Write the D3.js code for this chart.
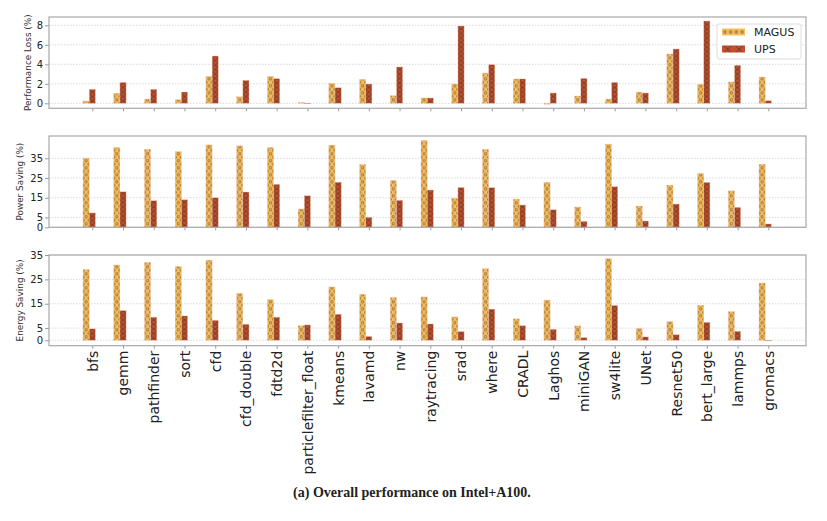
<!DOCTYPE html>
<html><head><meta charset="utf-8">
<script src="https://cdn.jsdelivr.net/npm/d3@7"></script>
<style>body{margin:0;background:#fff}svg{display:block}</style>
</head><body>
<svg id="c" width="827" height="521"></svg>
<script>
const categories = ["bfs","gemm","pathfinder","sort","cfd","cfd_double","fdtd2d","particlefilter_float","kmeans","lavamd","nw","raytracing","srad","where","CRADL","Laghos","miniGAN","sw4lite","UNet","Resnet50","bert_large","lammps","gromacs"];
const seriesNames = ["MAGUS","UPS"];
const perfMAGUS = [0.24,1.03,0.44,0.38,2.77,0.68,2.77,0.10,2.05,2.46,0.79,0.55,1.98,3.11,2.50,-0.10,0.75,0.44,1.16,5.06,1.95,2.19,2.70];
const perfUPS   = [1.44,2.15,1.44,1.16,4.85,2.36,2.53,0.02,1.60,1.98,3.73,0.55,7.93,3.97,2.50,1.06,2.56,2.15,1.06,5.57,8.44,3.90,0.27];
const powerMAGUS = [35.1,40.5,39.6,38.4,41.8,41.3,40.5,9.3,41.7,31.9,23.8,44.0,14.8,39.6,14.3,22.8,10.3,42.2,10.8,21.4,27.3,18.5,32.0];
const powerUPS   = [7.3,18.0,13.5,14.0,15.0,17.9,21.8,16.0,22.9,5.1,13.7,18.9,20.2,20.1,11.3,8.9,3.0,20.6,3.2,11.8,22.8,10.1,1.7];
const energyMAGUS = [29.1,30.9,32.0,30.3,32.9,19.3,16.7,6.0,21.9,18.9,17.6,17.8,9.6,29.4,8.8,16.5,5.9,33.5,4.9,7.7,14.4,11.8,23.5];
const energyUPS   = [4.7,12.2,9.5,10.0,8.2,6.6,9.5,6.3,10.7,1.6,7.1,6.7,3.6,12.8,6.0,4.5,1.1,14.3,1.4,2.3,7.4,3.7,-0.3];
const perfTicks = [0,2,4,6,8];
const powerTicks = [0,5,15,25,35];
const energyTicks = [0,5,15,25,35];
const caption = "(a) Overall performance on Intel+A100.";

const svg = d3.select("#c");
const colors = {MAGUS:"#f7be5c", UPS:"#c1502f"};
const hatchColor = "#3a2a20";
const defs = svg.append("defs");

const x = d3.scaleLinear().domain([0, categories.length-1]).range([92.3, 768.3]);
const bw = 6.2;
const left = 49, right = 806;

let pid = 0;
function makePattern(kind, px, py) {
  const id = "p" + (pid++);
  if (kind === "O") {
    const p = defs.append("pattern").attr("id",id).attr("patternUnits","userSpaceOnUse")
      .attr("width",bw).attr("height",7).attr("x",px).attr("y",py);
    p.append("rect").attr("width",bw).attr("height",7).attr("fill",colors.MAGUS);
    [[bw/2,3.5],[0,0],[bw,0],[0,7],[bw,7]].forEach(([cx,cy])=>{
      p.append("circle").attr("cx",cx).attr("cy",cy).attr("r",1.25).attr("fill","none")
        .attr("stroke",hatchColor).attr("stroke-width",0.6).attr("stroke-opacity",0.85);
    });
  } else {
    const p = defs.append("pattern").attr("id",id).attr("patternUnits","userSpaceOnUse")
      .attr("width",bw).attr("height",9).attr("x",px).attr("y",py);
    p.append("rect").attr("width",bw).attr("height",9).attr("fill",colors.UPS);
    p.append("path").attr("d",`M0,0 L${bw},4.5 L0,9 M${bw},0 L0,4.5 L${bw},9`)
      .attr("stroke",hatchColor).attr("stroke-width",0.6).attr("stroke-opacity",0.85).attr("fill","none");
  }
  return "url(#" + id + ")";
}

const panels = [
  {label:"Performance Loss (%)", top:17, bottom:108.3, domain:[-0.51,8.85], ticks:perfTicks, a:perfMAGUS, b:perfUPS, labelX:31},
  {label:"Power Saving (%)", top:136, bottom:227.3, domain:[0,46.3], ticks:powerTicks, a:powerMAGUS, b:powerUPS, labelX:22.5},
  {label:"Energy Saving (%)", top:255, bottom:345.7, domain:[-2.22,35], ticks:energyTicks, a:energyMAGUS, b:energyUPS, labelX:22.5}
];

panels.forEach((p, pi) => {
  const y = d3.scaleLinear().domain(p.domain).range([p.bottom, p.top]);
  const g = svg.append("g");
  g.selectAll("line.grid").data(p.ticks).join("line")
    .attr("x1",left).attr("x2",right).attr("y1",d=>y(d)).attr("y2",d=>y(d))
    .attr("stroke","#cfcfcf").attr("stroke-width",0.8).attr("stroke-dasharray","1.5,1.5");
  const drawSeries = (vals, off, kind) => {
    g.selectAll(null).data(vals).join("rect")
      .attr("x",(d,i)=>x(i)+off)
      .attr("width",bw)
      .attr("y",d=>Math.min(y(d),y(0)))
      .attr("height",d=>Math.max(0.6,Math.abs(y(d)-y(0))))
      .attr("fill",(d,i)=>makePattern(kind, x(i)+off, y(0)))
      .attr("stroke","#f4c8b6").attr("stroke-width",0.4);
  };
  drawSeries(p.a, -1.5*bw, "O");
  drawSeries(p.b, -0.5*bw, "X");
  const ya = d3.axisLeft(y).tickValues(p.ticks).tickSize(4).tickPadding(2);
  const yg = svg.append("g").attr("transform",`translate(${left},0)`).call(ya);
  yg.select(".domain").remove();
  yg.selectAll("line").attr("stroke","#999");
  yg.selectAll("text").attr("font-family","DejaVu Sans").attr("font-size",10).attr("fill","#222");
  const xa = d3.axisBottom(x).tickValues(d3.range(categories.length)).tickSize(3)
    .tickFormat(i => pi===2 ? categories[i] : "");
  const xg = svg.append("g").attr("transform",`translate(0,${p.bottom})`).call(xa);
  xg.select(".domain").remove();
  xg.selectAll("line").attr("stroke","#999");
  if (pi===2) {
    xg.selectAll("text").attr("font-family","DejaVu Sans").attr("font-size",14).attr("fill","#222")
      .attr("text-anchor","end").attr("transform","rotate(-90)")
      .attr("x",-5).attr("y",0).attr("dy","0.35em");
  }
  svg.append("rect").attr("x",left).attr("y",p.top).attr("width",right-left).attr("height",p.bottom-p.top)
    .attr("fill","none").attr("stroke","#a8a8a8").attr("stroke-width",1.2);
  svg.append("text").attr("transform",`translate(${p.labelX},${(p.top+p.bottom)/2}) rotate(-90)`)
    .attr("text-anchor","middle").attr("font-family","DejaVu Sans").attr("font-size",8.9).attr("fill","#333")
    .text(p.label);
});

// legend
const lg = svg.append("g");
lg.append("rect").attr("x",717).attr("y",24).attr("width",84).attr("height",35).attr("rx",2)
  .attr("fill","#fff").attr("fill-opacity",0.85).attr("stroke","#ddd");
const lo = defs.append("pattern").attr("id","legO").attr("patternUnits","userSpaceOnUse")
  .attr("width",5.75).attr("height",7).attr("x",722).attr("y",28.5);
lo.append("rect").attr("width",5.75).attr("height",7).attr("fill",colors.MAGUS);
lo.append("circle").attr("cx",2.9).attr("cy",3.5).attr("r",1.25).attr("fill","none").attr("stroke",hatchColor).attr("stroke-width",0.6);
const lx = defs.append("pattern").attr("id","legX").attr("patternUnits","userSpaceOnUse")
  .attr("width",11.5).attr("height",11.5).attr("x",722).attr("y",43.5);
lx.append("rect").attr("width",11.5).attr("height",11.5).attr("fill",colors.UPS);
lx.append("path").attr("d","M0,0 L11.5,11.5 M11.5,0 L0,11.5").attr("stroke",hatchColor).attr("stroke-width",0.6);
lg.append("rect").attr("x",722).attr("y",28.5).attr("width",23).attr("height",7).attr("fill","url(#legO)");
lg.append("rect").attr("x",722).attr("y",45.5).attr("width",23).attr("height",7).attr("fill","url(#legX)");
seriesNames.forEach((s,i)=>{
  lg.append("text").attr("x",754).attr("y",32+i*17).attr("dy","0.35em")
    .attr("font-family","DejaVu Sans").attr("font-size",11).attr("fill","#222").text(s);
});

svg.append("text").attr("x",412).attr("y",497).attr("text-anchor","middle")
  .attr("font-family","Liberation Serif").attr("font-weight","bold").attr("font-size",14).attr("fill","#222")
  .text(caption);
</script>
</body></html>
